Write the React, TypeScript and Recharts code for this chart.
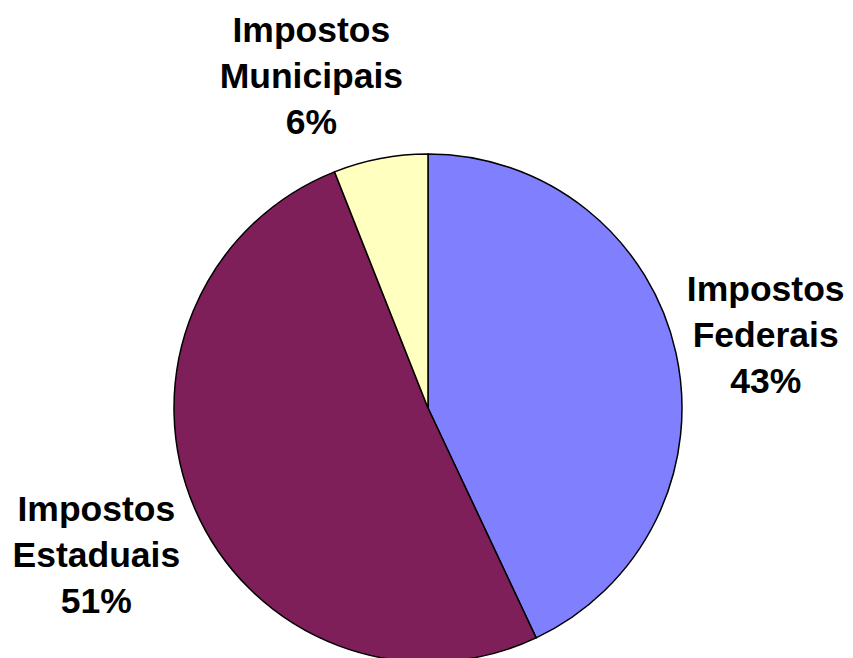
import React from "react";
import { PieChart, Pie, Cell } from "recharts";

// Tax revenue split by level of government
const categories = ["Impostos Federais", "Impostos Estaduais", "Impostos Municipais"];
const shares = [43, 51, 6];
const sliceColors = ["#8080FF", "#7F1F5A", "#FFFFC0"];

const data = categories.map((name, i) => ({ name, value: shares[i] }));

// Fine placement of each label block relative to its polar anchor point
const labelNudge: Record<string, { dx: number; dy: number }> = {
  "Impostos Federais": { dx: 1, dy: 14 },
  "Impostos Estaduais": { dx: -15, dy: 22 },
  "Impostos Municipais": { dx: -52, dy: 19 },
};

const RAD = Math.PI / 180;
const LABEL_RADIUS = 345;
const LINE_GAP = 46;

const renderLabel = (props: any) => {
  const { cx, cy, midAngle, name, value } = props;
  const nudge = labelNudge[name] || { dx: 0, dy: 0 };
  const x = cx + LABEL_RADIUS * Math.cos(-midAngle * RAD) + nudge.dx;
  const y = cy + LABEL_RADIUS * Math.sin(-midAngle * RAD) + nudge.dy;
  const [first, second] = String(name).split(" ");
  return (
    <text
      x={x}
      y={y}
      textAnchor="middle"
      fill="#000"
      style={{ fontFamily: "'Liberation Sans', Arial, sans-serif", fontWeight: "bold", fontSize: 35.5 }}
    >
      <tspan x={x} y={y - LINE_GAP}>{first}</tspan>
      <tspan x={x} y={y}>{second}</tspan>
      <tspan x={x} y={y + LINE_GAP}>{`${value}%`}</tspan>
    </text>
  );
};

export default function App() {
  return (
    <div style={{ position: "absolute", left: 0, top: 0, width: 853, height: 658, background: "#fff" }}>
      <PieChart width={853} height={658} margin={{ top: 0, right: 0, bottom: 0, left: 0 }}>
        <Pie
          data={data}
          dataKey="value"
          nameKey="name"
          cx={428}
          cy={408}
          outerRadius={254}
          startAngle={90}
          endAngle={-270}
          stroke="#000"
          strokeWidth={1.5}
          label={renderLabel}
          labelLine={false}
          isAnimationActive={false}
        >
          {data.map((d, i) => (
            <Cell key={d.name} fill={sliceColors[i]} />
          ))}
        </Pie>
      </PieChart>
    </div>
  );
}
